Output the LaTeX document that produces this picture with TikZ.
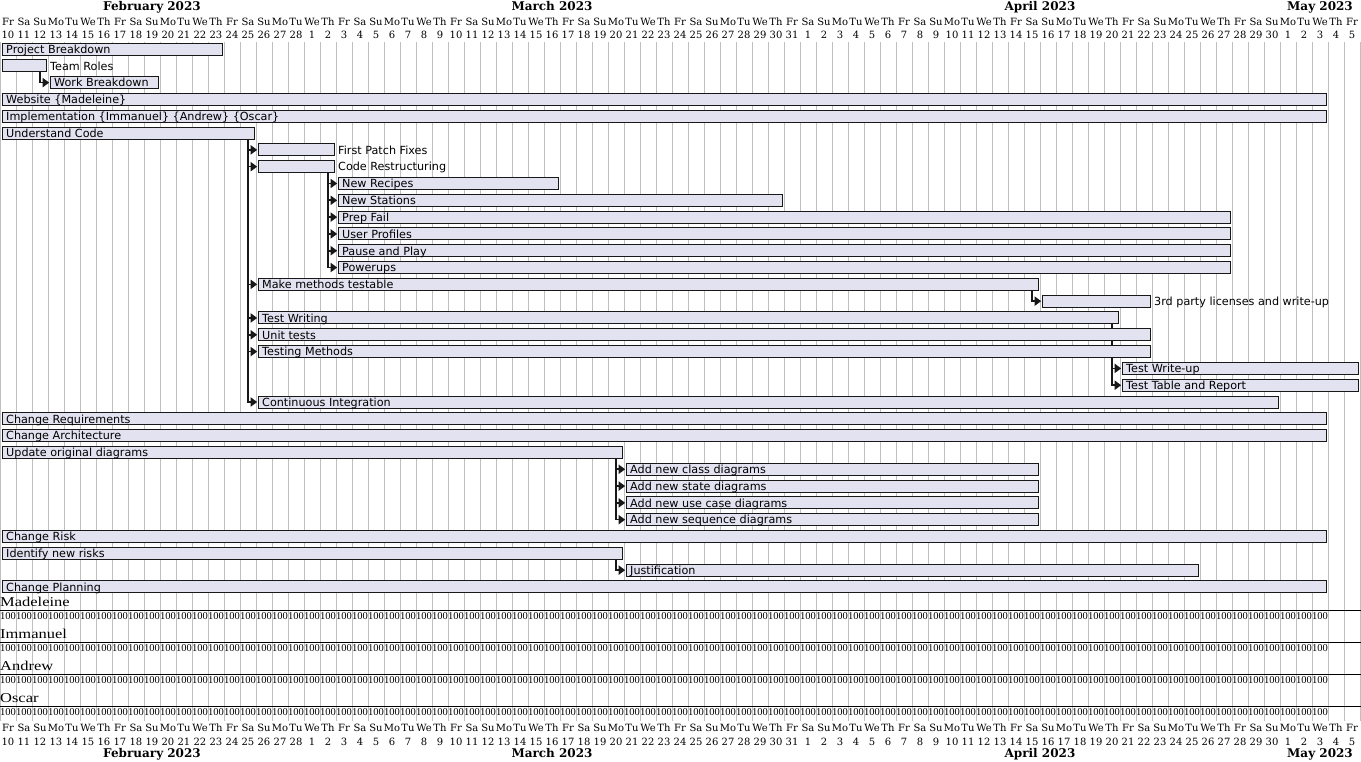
\documentclass[tikz,border=0pt]{standalone}
\usepackage{fontspec}
\setmainfont{DejaVu Serif}
\newfontfamily\taskfont{DejaVu Sans}
\newfontfamily\resfont{Liberation Serif}
\newfontfamily\resnamefont[FakeStretch=1.22]{Liberation Serif}
\usetikzlibrary{arrows.meta,calc}
\definecolor{barfill}{HTML}{E2E2F0}
\definecolor{barline}{HTML}{181818}
\definecolor{gridc}{HTML}{C0C0C0}
\pgfdeclarelayer{gridlayer}
\pgfdeclarelayer{deplayer}
\pgfsetlayers{gridlayer,deplayer,main}
\newcommand\wdname[1]{\ifcase\numexpr#1\relax Fr\or Sa\or Su\or Mo\or Tu\or We\or Th\fi}
\newcommand\gtask[6]{%
  \pgfmathsetmacro\gTy{49+16.81*#2}%
  \pgfmathsetmacro\gTx{16*#3+2}%
  \pgfmathsetmacro\gTw{16*(#4-#3)-4}%
  \node[bar, minimum width=\gTw pt] (#1) at (\gTx,\gTy) {};%
  \ifx i#6
    \node[tlabel] (#1l) at ($(#1.west)+(4,4.3)$) {#5};%
  \else
    \node[tlabel] (#1l) at ($(#1.east)+(4,4.3)$) {#5};%
  \fi
}
\newcommand\gdep[2]{\draw[dep] ($(#1.south east)+(-6,0)$) |- ($(#2.west)+(-0.8,0)$);}
\begin{document}
\begin{tikzpicture}[x=1pt,y=-1pt,
  bar/.style={draw=barline, fill=barfill, line width=1pt, rectangle, inner sep=0pt, outer sep=0pt, minimum height=12pt, anchor=west},
  tlabel/.style={font=\taskfont\fontsize{11.2}{13}\selectfont, inner sep=0pt, anchor=base west},
  dep/.style={draw=barline, line width=1.6pt, -{Triangle[length=6.5pt,width=9pt]}},
  dayf/.style={font=\fontsize{10}{12}\selectfont, inner sep=0pt, anchor=base},
  monthf/.style={font=\bfseries\fontsize{12}{14}\selectfont, inner sep=0pt, anchor=base},
  resname/.style={font=\resnamefont\fontsize{13.5}{15}\selectfont, inner sep=0pt, anchor=base west},
  resval/.style={font=\resfont\fontsize{10.5}{12}\selectfont, inner sep=0pt, anchor=base},
  gridline/.style={draw=gridc, line width=1pt},
  resline/.style={draw=black, line width=1pt}]
\useasboundingbox (0,0) rectangle (1361,761);
% grid
\begin{pgfonlayer}{gridlayer}
\foreach \i in {0,...,85} {
  \coordinate (gt\i) at (16*\i,42);
  \coordinate (gb\i) at (16*\i,721);
  \draw[gridline] (gt\i) -- (gb\i);
}
\end{pgfonlayer}
% headers
\foreach \i in {0,...,84} {
  \pgfmathtruncatemacro\w{mod(\i,7)}
  \pgfmathtruncatemacro\dn{ifthenelse(\i<19,10+\i,ifthenelse(\i<50,\i-18,ifthenelse(\i<80,\i-49,\i-79)))}
  \node[dayf] (dt\i) at (16*\i+8,25.5) {\wdname{\w}};
  \node[dayf] (nt\i) at (16*\i+8,38) {\dn};
  \node[dayf] (db\i) at (16*\i+8,731) {\wdname{\w}};
  \node[dayf] (nb\i) at (16*\i+8,745.5) {\dn};
}
\node[monthf] (mt1) at (152,10.5) {February 2023};
\node[monthf] (mt2) at (552,10.5) {March 2023};
\node[monthf] (mt3) at (1040,10.5) {April 2023};
\node[monthf] (mt4) at (1320,10.5) {May 2023};
\node[monthf] (mb1) at (152,757.5) {February 2023};
\node[monthf] (mb2) at (552,757.5) {March 2023};
\node[monthf] (mb3) at (1040,757.5) {April 2023};
\node[monthf] (mb4) at (1320,757.5) {May 2023};
% tasks
\gtask{t0}{0}{0}{14}{Project Breakdown}{i}
\gtask{t1}{1}{0}{3}{Team Roles}{o}
\gtask{t2}{2}{3}{10}{Work Breakdown}{i}
\gtask{t3}{3}{0}{83}{Website \{Madeleine\}}{i}
\gtask{t4}{4}{0}{83}{Implementation \{Immanuel\} \{Andrew\} \{Oscar\}}{i}
\gtask{t5}{5}{0}{16}{Understand Code}{i}
\gtask{t6}{6}{16}{21}{First Patch Fixes}{o}
\gtask{t7}{7}{16}{21}{Code Restructuring}{o}
\gtask{t8}{8}{21}{35}{New Recipes}{i}
\gtask{t9}{9}{21}{49}{New Stations}{i}
\gtask{t10}{10}{21}{77}{Prep Fail}{i}
\gtask{t11}{11}{21}{77}{User Profiles}{i}
\gtask{t12}{12}{21}{77}{Pause and Play}{i}
\gtask{t13}{13}{21}{77}{Powerups}{i}
\gtask{t14}{14}{16}{65}{Make methods testable}{i}
\gtask{t15}{15}{65}{72}{3rd party licenses and write-up}{o}
\gtask{t16}{16}{16}{70}{Test Writing}{i}
\gtask{t17}{17}{16}{72}{Unit tests}{i}
\gtask{t18}{18}{16}{72}{Testing Methods}{i}
\gtask{t19}{19}{70}{85}{Test Write-up}{i}
\gtask{t20}{20}{70}{85}{Test Table and Report}{i}
\gtask{t21}{21}{16}{80}{Continuous Integration}{i}
\gtask{t22}{22}{0}{83}{Change Requirements}{i}
\gtask{t23}{23}{0}{83}{Change Architecture}{i}
\gtask{t24}{24}{0}{39}{Update original diagrams}{i}
\gtask{t25}{25}{39}{65}{Add new class diagrams}{i}
\gtask{t26}{26}{39}{65}{Add new state diagrams}{i}
\gtask{t27}{27}{39}{65}{Add new use case diagrams}{i}
\gtask{t28}{28}{39}{65}{Add new sequence diagrams}{i}
\gtask{t29}{29}{0}{83}{Change Risk}{i}
\gtask{t30}{30}{0}{39}{Identify new risks}{i}
\gtask{t31}{31}{39}{75}{Justification}{i}
\gtask{t32}{32}{0}{83}{Change Planning}{i}
% dependencies
\begin{pgfonlayer}{deplayer}
\gdep{t1}{t2}
\foreach \d in {6,7,14,16,17,18,21} {\gdep{t5}{t\d}}
\foreach \d in {8,...,13} {\gdep{t7}{t\d}}
\gdep{t14}{t15}
\gdep{t16}{t19}
\gdep{t16}{t20}
\foreach \d in {25,...,28} {\gdep{t24}{t\d}}
\gdep{t30}{t31}
\end{pgfonlayer}
% resources
\foreach \r/\nm [count=\k from 0] in {ra/Madeleine,rb/Immanuel,rc/Andrew,rd/Oscar} {
  \pgfmathsetmacro\ry{606+32*\k}
  \node[resname] (\r) at (0,\ry) {\nm};
  \coordinate (\r L) at (0,\ry+4.5);
  \coordinate (\r R) at (1361,\ry+4.5);
  \draw[resline] (\r L) -- (\r R);
  \foreach \i in {0,...,82} {
    \node[resval] (\r v\i) at (16*\i+8,\ry+13.5) {100};
  }
}
\end{tikzpicture}
\end{document}
